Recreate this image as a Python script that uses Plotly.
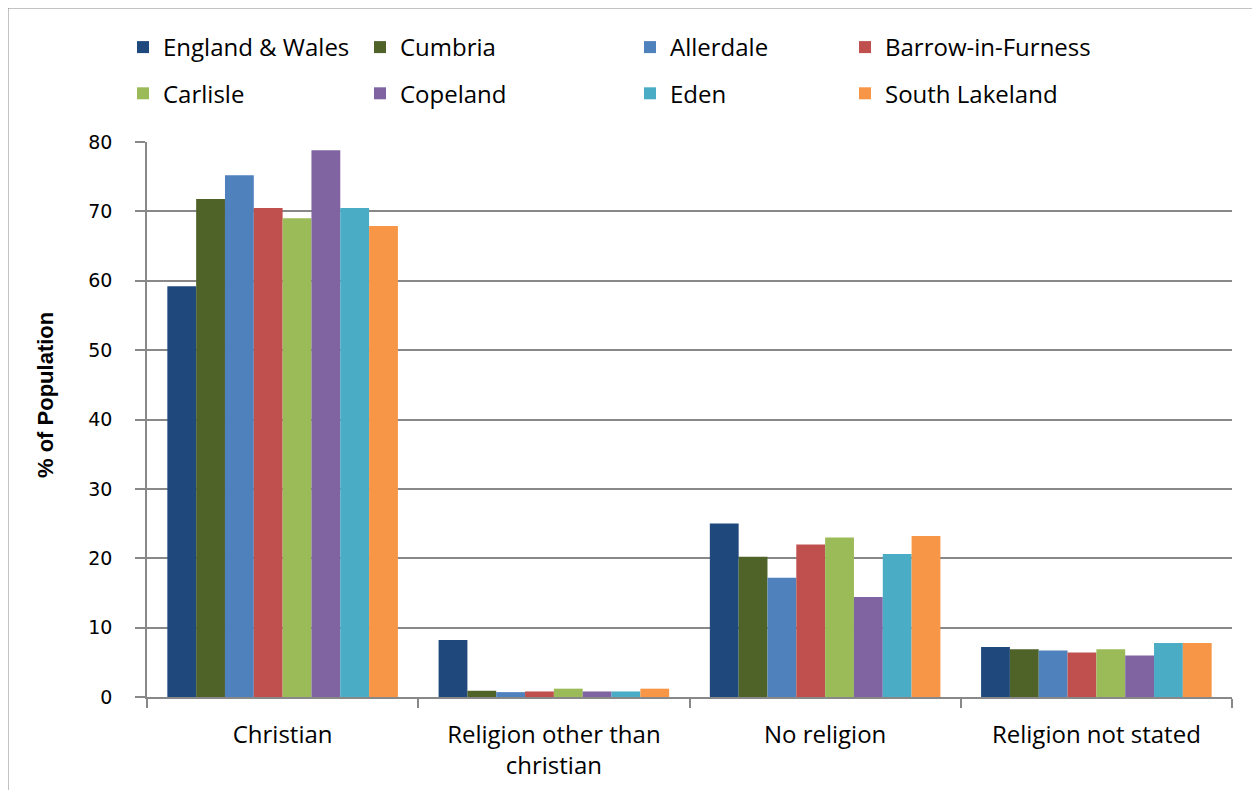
import plotly.graph_objects as go

religions = ['Christian', 'Religion other than<br>christian', 'No religion', 'Religion not stated']

areas = ['England & Wales', 'Cumbria', 'Allerdale', 'Barrow-in-Furness',
         'Carlisle', 'Copeland', 'Eden', 'South Lakeland']

england_wales = [59.2, 8.2, 25.0, 7.2]
cumbria = [71.8, 0.9, 20.2, 6.9]
allerdale = [75.2, 0.7, 17.2, 6.7]
barrow = [70.5, 0.8, 22.0, 6.4]
carlisle = [69.0, 1.2, 23.0, 6.9]
copeland = [78.8, 0.8, 14.4, 6.0]
eden = [70.5, 0.8, 20.6, 7.8]
south_lakeland = [67.9, 1.2, 23.2, 7.8]

series = [england_wales, cumbria, allerdale, barrow, carlisle, copeland, eden, south_lakeland]
colours = ['#1F497D', '#4F6228', '#4F81BD', '#C0504D', '#9BBB59', '#8064A2', '#4BACC6', '#F79646']
# which of the four legend columns each area sits in
legend_col = ['legend', 'legend2', 'legend3', 'legend4', 'legend', 'legend2', 'legend3', 'legend4']

fig = go.Figure()
for name, vals, col, lg in zip(areas, series, colours, legend_col):
    fig.add_trace(go.Bar(x=religions, y=vals, name=name, marker_color=col,
                         marker_line_width=0, legend=lg, legendgroup=name))

# the page body adds an 8px margin, so work in page pixels and subtract it
OFF = 8
W, H = 1260, 790
ml, mt = 147 - OFF, 142 - OFF
pw, ph = 1085, 555
mr, mb = W - ml - pw, H - mt - ph

def px_x(p):
    return (p - OFF - ml) / pw

def px_y(p):
    return (mt + ph - (p - OFF)) / ph

leg_font = dict(family='Open Sans', size=24, color='#000000')
leg_common = dict(orientation='v', yanchor='top', y=px_y(25), font=leg_font,
                  tracegroupgap=12, bgcolor='rgba(0,0,0,0)', itemclick=False)

fig.update_layout(
    width=W, height=H,
    margin=dict(l=ml, r=mr, t=mt, b=mb, autoexpand=False),
    paper_bgcolor='white', plot_bgcolor='white',
    barmode='group', bargap=0.15, bargroupgap=0,
    showlegend=True,
    legend=dict(x=px_x(123), **leg_common),
    legend2=dict(x=px_x(360), **leg_common),
    legend3=dict(x=px_x(630), **leg_common),
    legend4=dict(x=px_x(845), **leg_common),
    xaxis=dict(showline=True, linecolor='#888888', linewidth=1.5,
               ticks='outside', tickson='boundaries', ticklen=9, tickcolor='#888888', tickwidth=2,
               ticklabelstandoff=15,
               tickfont=dict(family='Open Sans', size=24, color='#000000'),
               showgrid=False),
    yaxis=dict(range=[0, 80], dtick=10, showline=True, linecolor='#888888', linewidth=1.5,
               ticks='outside', ticklen=10, tickcolor='#888888', tickwidth=1.5,
               ticklabelstandoff=19,
               tickfont=dict(family='DejaVu Sans', size=19, color='#000000'),
               showgrid=True, gridcolor='#888888', gridwidth=1.5, zeroline=False),
    shapes=[dict(type='rect', xref='paper', yref='paper',
                 x0=px_x(7), x1=px_x(1275), y0=px_y(805), y1=px_y(7),
                 line=dict(color='#888888', width=3), fillcolor='rgba(0,0,0,0)', layer='below')],
    annotations=[dict(text='<b>% of Population</b>', xref='paper', yref='paper',
                      x=px_x(45), y=px_y(395), xanchor='center', yanchor='middle',
                      textangle=-90, showarrow=False,
                      font=dict(family='Liberation Sans Narrow, Liberation Sans', size=22, color='#000000'))],
)

fig.write_html('out.html')
